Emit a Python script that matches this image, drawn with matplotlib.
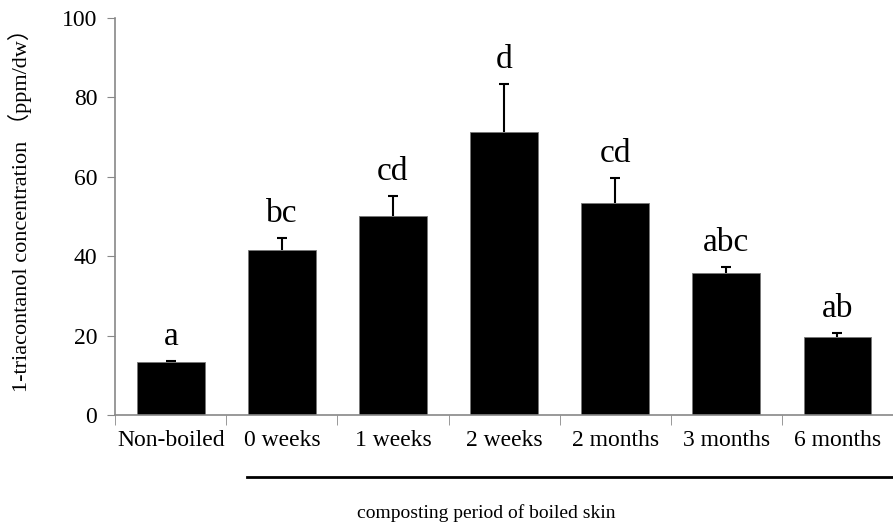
import numpy as np
import matplotlib.pyplot as plt
import matplotlib.transforms as mtransforms

# bar chart values
groups = ['Non-boiled', '0 weeks', '1 weeks', '2 weeks', '2 months', '3 months', '6 months']
means = [13.3, 41.6, 50.1, 71.3, 53.4, 35.8, 19.6]
errs = [0.4, 3.0, 5.1, 12.1, 6.3, 1.5, 1.0]
letters = ['a', 'bc', 'cd', 'd', 'cd', 'abc', 'ab']

plt.rcParams['font.family'] = ['Liberation Serif', 'Noto Sans CJK JP']

fig = plt.figure(figsize=(8.93, 5.32), dpi=100)
ax = fig.add_axes([0.129, 0.22, 0.871, 0.746])

x = np.arange(len(groups))
ax.bar(x, means, width=0.61, color='black', edgecolor='#777777', linewidth=0.6, zorder=2)

# upper error bars only
tops = np.array(means) + np.array(errs)
ax.vlines(x, means, tops, color='black', linewidth=1.5, zorder=3)
ax.hlines(tops, x - 0.045, x + 0.045, color='black', linewidth=1.5, zorder=3)

# significance letters
for xi, t, l in zip(x, tops, letters):
    ax.text(xi, t + 2.2, l, ha='center', va='bottom', fontsize=24)

ax.set_xlim(-0.5, len(groups) - 0.5)
ax.set_ylim(0, 100)
ax.set_yticks([0, 20, 40, 60, 80, 100])
ax.tick_params(axis='y', labelsize=17, direction='out', length=6, color='#888888', pad=7)
ax.set_xticks(x)
ax.set_xticklabels(groups, fontsize=17)
ax.tick_params(axis='x', length=0, pad=11)
# minor ticks between categories
ax.set_xticks(np.arange(-0.5, len(groups), 1), minor=True)
ax.tick_params(axis='x', which='minor', direction='out', length=7, color='#888888')

for side in ['top', 'right']:
    ax.spines[side].set_visible(False)
for side in ['left', 'bottom']:
    ax.spines[side].set_color('#888888')
    ax.spines[side].set_linewidth(1.2)

ax.set_ylabel('1-triacontanol concentration （ppm/dw）', fontsize=16)
ax.yaxis.set_label_coords(-0.107, 0.53)

# bracket line for the composting period
trans = mtransforms.blended_transform_factory(ax.transData, fig.transFigure)
ax.plot([0.69, 6.5], [0.103, 0.103], color='black', linewidth=2, transform=trans, clip_on=False)
fig.text(0.545, 0.035, 'composting period of boiled skin', ha='center', va='center', fontsize=14)

plt.savefig('out.png', dpi=100)
